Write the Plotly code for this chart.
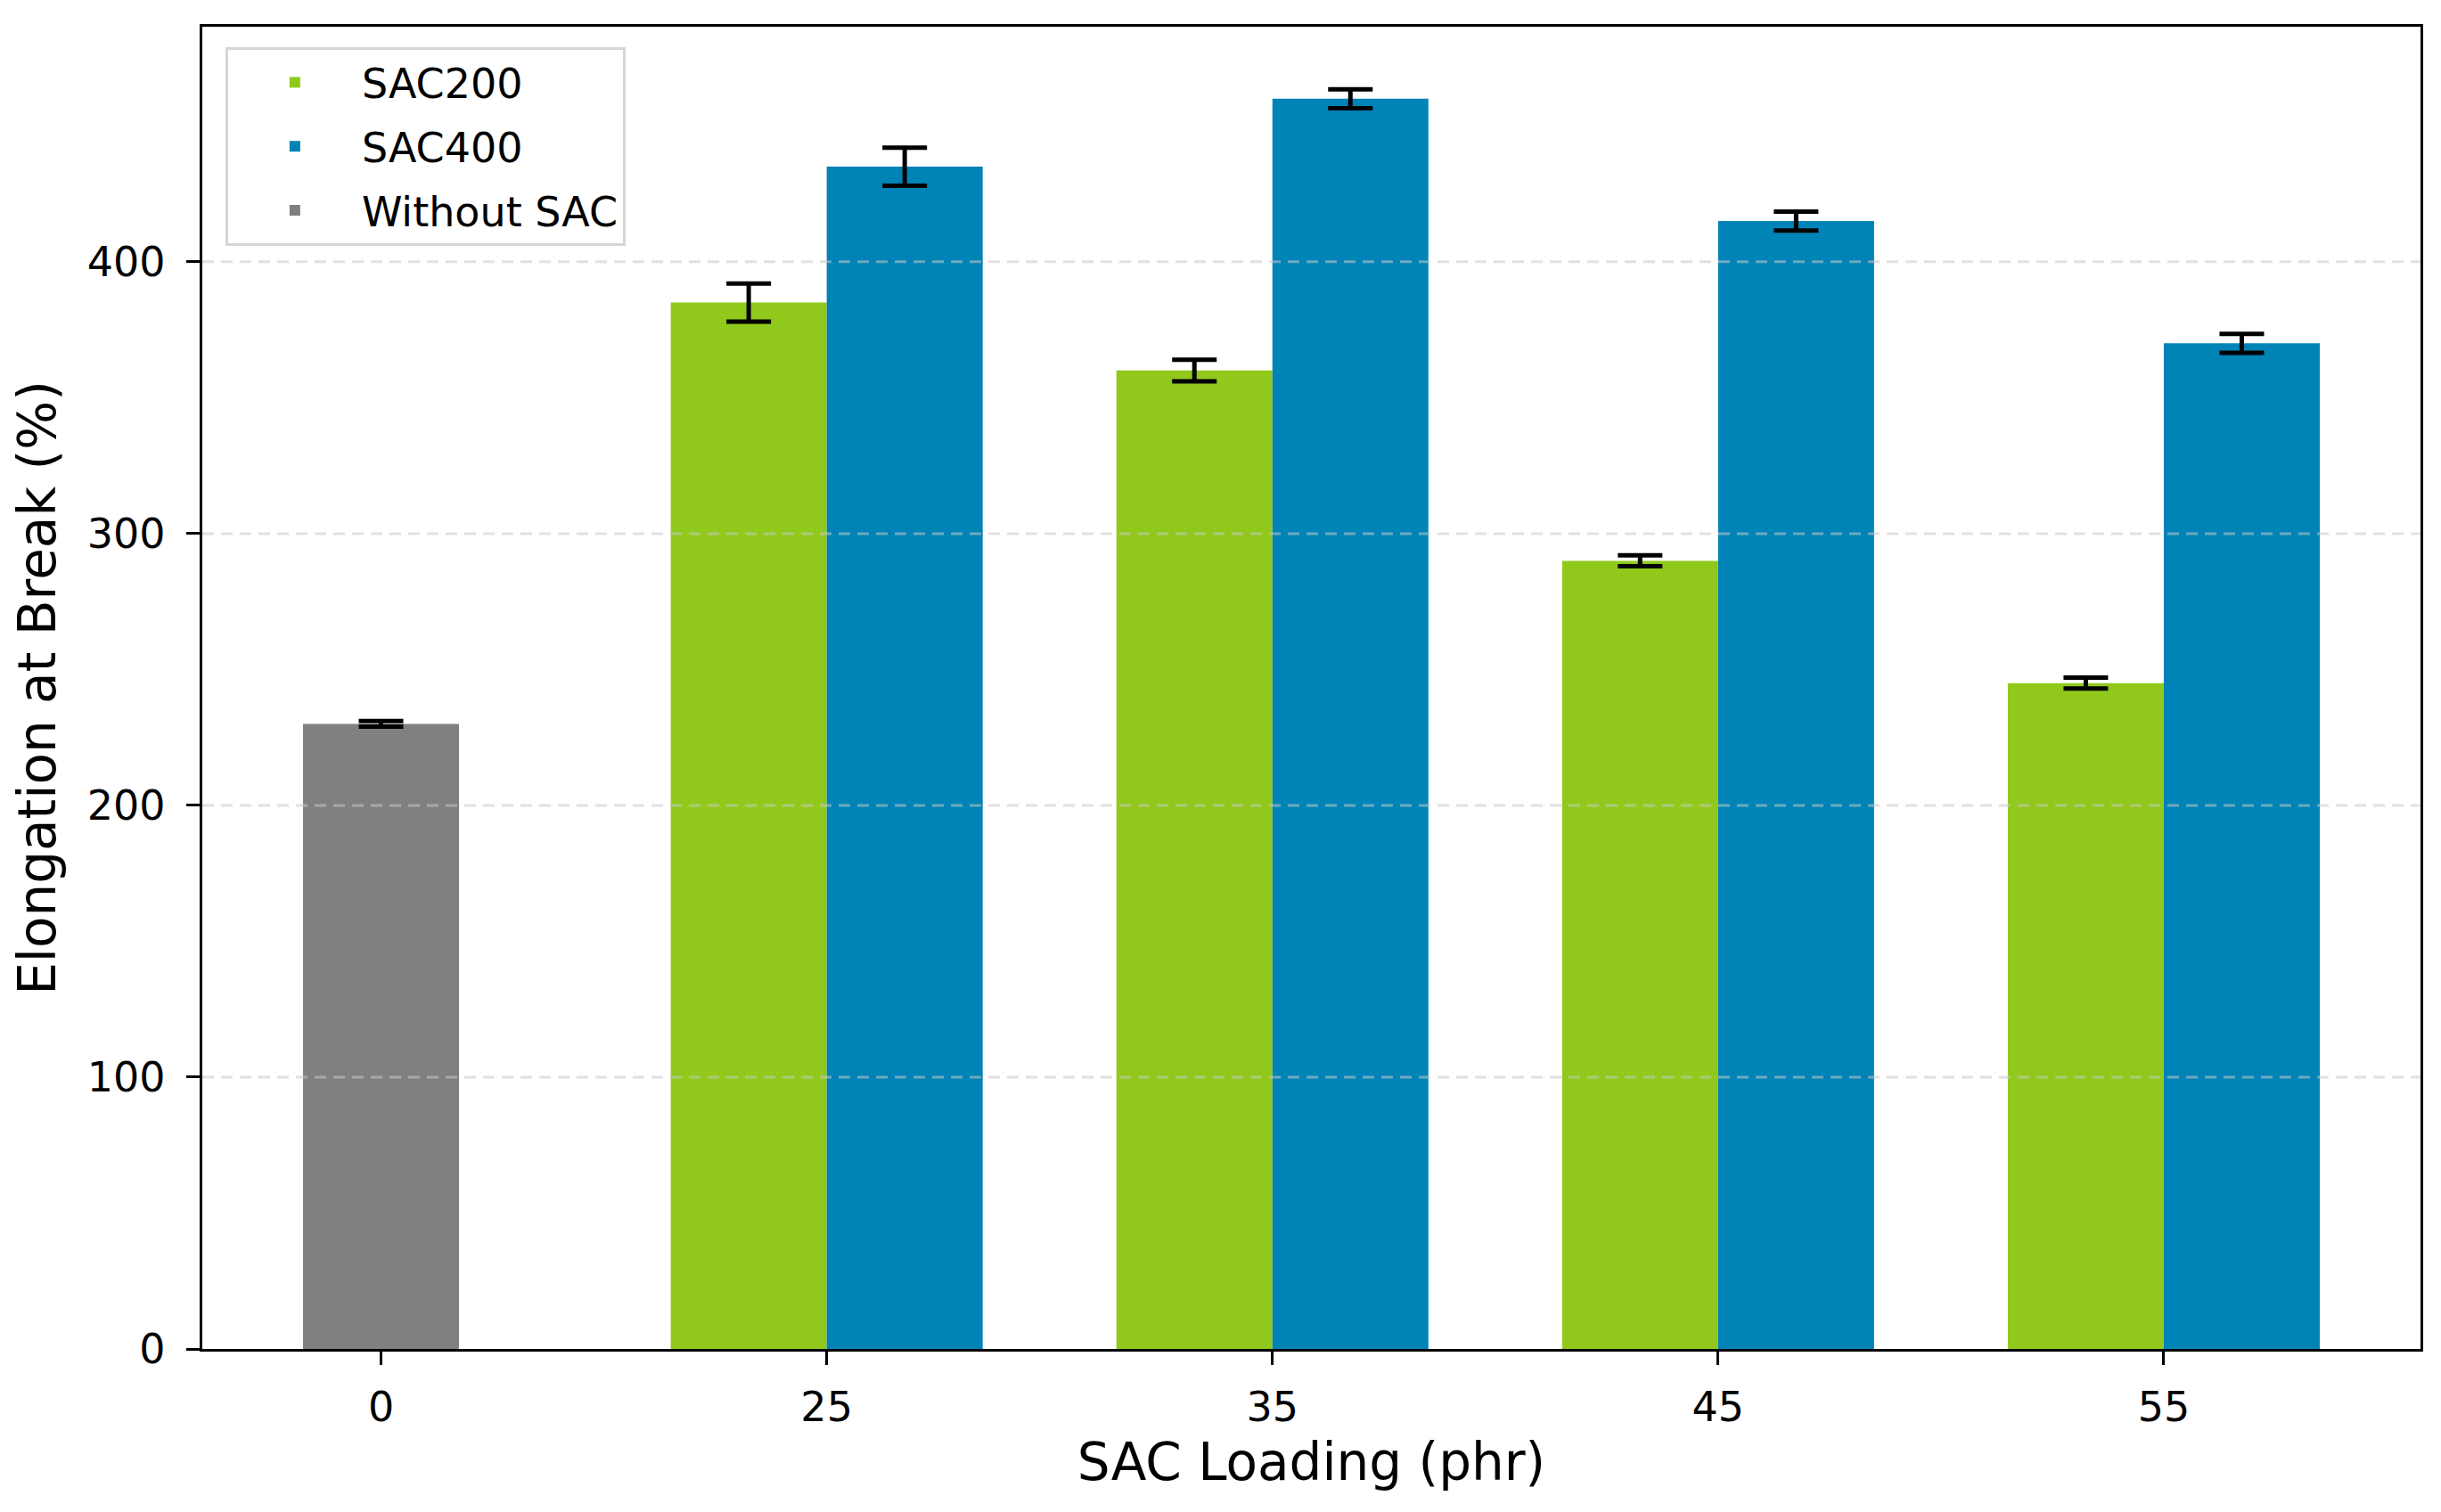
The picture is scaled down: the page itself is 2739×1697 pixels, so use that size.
import plotly.graph_objects as go

# ---- data ----
categories = ["0", "25", "35", "45", "55"]
without_sac = [230]
without_sac_err = [1]
sac200 = [385, 360, 290, 245]
sac200_err = [7, 4, 2, 2]
sac400 = [435, 460, 415, 370]
sac400_err = [7, 3.5, 3.5, 3.5]
y_ticks = [0, 100, 200, 300, 400]

BAR_W = 0.35
GREEN = "#90c91c"
BLUE = "#0083b6"
GRAY = "#808080"
FONT = "DejaVu Sans"

idx_all = list(range(len(categories)))
idx_sac = idx_all[1:]

err_style = dict(color="black", thickness=5, width=25)

fig = go.Figure()
fig.add_trace(go.Bar(
    x=[idx_sac[k] - BAR_W / 2 for k in range(len(sac200))], y=sac200, width=BAR_W,
    name="SAC200", legendgroup="a", marker=dict(color=GREEN, line=dict(width=0)),
    error_y=dict(type="data", array=sac200_err, visible=True, **err_style),
))
fig.add_trace(go.Bar(
    x=[idx_sac[k] + BAR_W / 2 for k in range(len(sac400))], y=sac400, width=BAR_W,
    name="SAC400", legendgroup="b", marker=dict(color=BLUE, line=dict(width=0)),
    error_y=dict(type="data", array=sac400_err, visible=True, **err_style),
))
fig.add_trace(go.Bar(
    x=[idx_all[0]], y=without_sac, width=BAR_W,
    name="Without SAC", legendgroup="c", marker=dict(color=GRAY, line=dict(width=0)),
    error_y=dict(type="data", array=without_sac_err, visible=True, **err_style),
))

# dashed grid drawn above bars (as in reference)
for v in y_ticks[1:]:
    fig.add_shape(type="line", xref="paper", yref="y", x0=0, x1=1, y0=v, y1=v,
                  line=dict(color="rgba(200,200,200,0.55)", width=3, dash="13px,8px"),
                  layer="above")

axis_common = dict(
    showline=True, linecolor="black", linewidth=3.3, mirror=True,
    ticks="outside", ticklen=15, tickwidth=3.3, tickcolor="black",
    tickfont=dict(family=FONT, size=46, color="black"),
    showgrid=False, zeroline=False,
)

# page body has an 8px margin; figure sized/offset so the plot area lands where the reference's does
fig.update_layout(
    width=2723, height=1681, autosize=False,
    margin=dict(l=219, r=12, t=22, b=175),
    paper_bgcolor="white", plot_bgcolor="white",
    barmode="overlay",
    font=dict(family=FONT, size=46, color="black"),
    xaxis=dict(
        **axis_common,
        tickmode="array", tickvals=idx_all, ticktext=categories,
        range=[-0.401, 4.576],
        ticklabelstandoff=8,
        title=dict(text="SAC Loading (phr)", font=dict(family=FONT, size=58, color="black"), standoff=16),
    ),
    yaxis=dict(
        **axis_common,
        tickmode="array", tickvals=y_ticks, ticktext=[str(t) for t in y_ticks],
        range=[0, 486.5],
        ticklabelstandoff=14,
        title=dict(text="Elongation at Break (%)", font=dict(family=FONT, size=58, color="black"), standoff=30),
    ),
    legend=dict(
        x=0.0104, y=0.9845, xanchor="left", yanchor="top",
        bgcolor="rgba(255,255,255,0.8)", bordercolor="#d6d6d6", borderwidth=3,
        font=dict(family=FONT, size=46, color="black"),
        itemwidth=140, tracegroupgap=9,
    ),
    showlegend=True,
)

fig.write_html("out.html")
